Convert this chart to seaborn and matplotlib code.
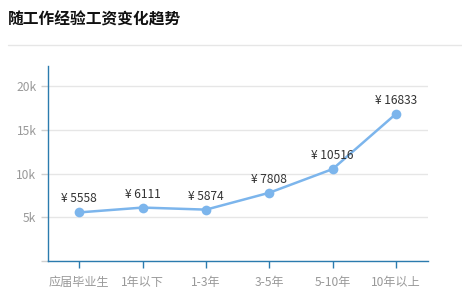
import matplotlib
matplotlib.use("Agg")
import matplotlib.pyplot as plt
import seaborn as sns
import pandas as pd
from matplotlib.lines import Line2D

categories = ["应届毕业生", "1年以下", "1-3年", "3-5年", "5-10年", "10年以上"]
salaries = [5558, 6111, 5874, 7808, 10516, 16833]
y_ticks = [0, 5000, 10000, 15000, 20000]
y_tick_labels = ["", "5k", "10k", "15k", "20k"]
title = "随工作经验工资变化趋势"

sns.set_theme(style="white")
plt.rcParams['font.family'] = ['Noto Sans CJK SC', 'DejaVu Sans']

df = pd.DataFrame({"cat": categories, "val": salaries})

fig = plt.figure(figsize=(4.62, 2.99), dpi=100)
ax = fig.add_axes([47.7/462, 38/299, 380/462, 195/299])

sns.lineplot(data=df, x="cat", y="val", ax=ax, color="#7cb5ec", linewidth=1.8,
             marker="o", markersize=7, markeredgewidth=0, sort=False)

ax.set_xlim(-0.5, len(categories) - 0.5)
ax.set_ylim(0, 22300)
ax.set_yticks(y_ticks)
ax.set_yticklabels(y_tick_labels)
ax.set_xlabel("")
ax.set_ylabel("")
ax.yaxis.grid(True, color="#e6e6e6", linewidth=1)
ax.set_axisbelow(True)

for s in ["top", "right"]:
    ax.spines[s].set_visible(False)
for s in ["left", "bottom"]:
    ax.spines[s].set_color("#2b7bae")
    ax.spines[s].set_linewidth(1)

ax.tick_params(axis="y", length=5, width=1, color="#d0d0d0", labelcolor="#999999",
               labelsize=8.7, pad=3, left=True)
ax.tick_params(axis="x", length=5, width=1, color="#2b7bae", labelcolor="#999999",
               labelsize=8.7, pad=6, bottom=True)

for i, v in enumerate(salaries):
    ax.annotate(f"¥ {v}", (i, v), xytext=(0, 5), textcoords="offset points",
                ha="center", va="bottom", fontsize=8.6, color="#333333")

fig.text(8/462, 1 - 20/299, title, fontsize=11.3, fontweight="bold",
         color="#111111", va="center", ha="left")
fig.add_artist(Line2D([8/462, 1.0], [1 - 45/299, 1 - 45/299], color="#e6e6e6",
                      linewidth=1, transform=fig.transFigure))

fig.savefig("out.png", dpi=100)
